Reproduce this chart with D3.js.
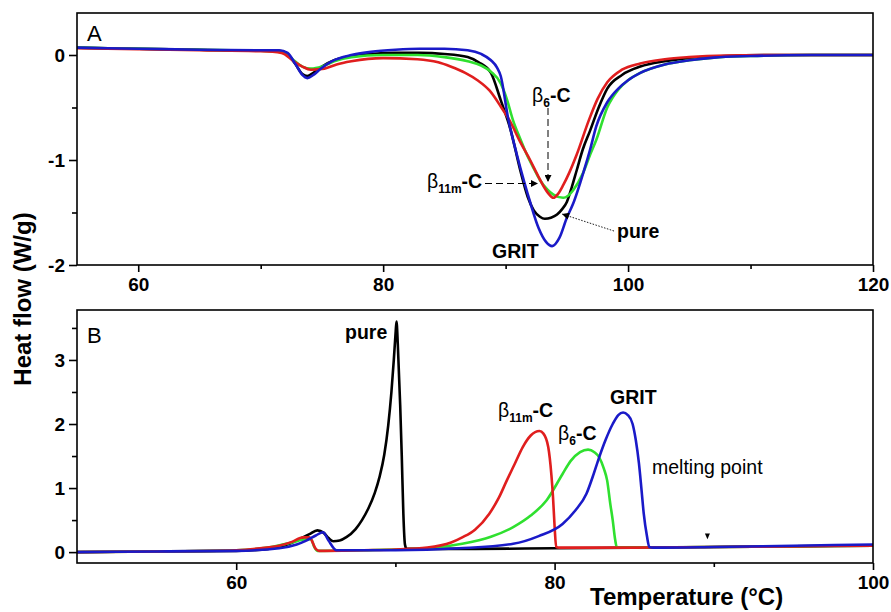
<!DOCTYPE html>
<html>
<head>
<meta charset="utf-8">
<script src="https://cdn.jsdelivr.net/npm/d3@7"></script>
<style>
	body { margin: 0; background: #fff; }
	text { font-family: "Liberation Sans", Arial, sans-serif; }
</style>
</head>
<body>
<svg id="canvas" width="891" height="612"></svg>
<script>
// Panel A: heating (melting) curves, [temperature, heat flow]
let pureA = [[55,0.07],[60,0.06],[65,0.05],[70,0.04],[71.5,0.04],[72.2,0.01],[72.8,-0.08],[73.4,-0.18],[73.8,-0.2],[74.3,-0.17],[75,-0.11],[76,-0.05],[77.4,-0.01],[79,0.01],[81,0.02],[83,0.02],[85,0.01],[86.9,-0.02],[87.8,-0.07],[88.8,-0.17],[89.6,-0.43],[90.4,-0.71],[91.2,-1.1],[91.8,-1.35],[92.3,-1.48],[92.8,-1.54],[93.2,-1.56],[93.7,-1.55],[94.2,-1.52],[94.6,-1.47],[95,-1.4],[95.4,-1.26],[95.8,-1.1],[96.3,-0.9],[96.9,-0.72],[97.6,-0.5],[98.3,-0.32],[99.5,-0.19],[101,-0.11],[103,-0.06],[105,-0.03],[108,-0.01],[112,0],[120,0]];
let b6A = [[55,0.07],[60,0.06],[65,0.05],[70,0.04],[71.7,0.03],[72.7,-0.05],[73.4,-0.11],[74.1,-0.13],[75,-0.11],[76,-0.06],[77.4,-0.02],[80,0],[82.8,0],[85,-0.02],[86.9,-0.06],[88,-0.1],[88.8,-0.16],[89.6,-0.27],[90.1,-0.42],[90.6,-0.62],[91.2,-0.8],[91.7,-0.94],[92.3,-1.08],[92.8,-1.19],[93.4,-1.28],[93.9,-1.33],[94.7,-1.36],[95.1,-1.34],[95.5,-1.29],[96.3,-1.13],[96.9,-0.95],[97.4,-0.81],[98.3,-0.5],[99.2,-0.33],[100,-0.24],[101,-0.17],[103,-0.09],[105,-0.05],[107,-0.025],[110,-0.01],[115,0],[120,0]];
let b11mA = [[55,0.065],[60,0.055],[65,0.045],[70,0.035],[71.7,0.02],[72.7,-0.06],[73.4,-0.11],[74.1,-0.14],[75.2,-0.13],[76.2,-0.09],[77.4,-0.06],[80,-0.03],[82.8,-0.04],[84.5,-0.07],[85.5,-0.11],[86.7,-0.17],[87.7,-0.24],[88.7,-0.34],[89.6,-0.49],[90.4,-0.64],[91.2,-0.83],[92,-1],[92.6,-1.14],[93.1,-1.25],[93.5,-1.32],[93.9,-1.36],[94.3,-1.32],[94.7,-1.24],[95.2,-1.12],[95.8,-0.95],[96.8,-0.62],[97.5,-0.42],[98.3,-0.26],[99.5,-0.14],[101,-0.08],[103,-0.04],[105,-0.02],[108,-0.005],[112,0],[120,0]];
let gritA = [[55,0.07],[60,0.06],[65,0.05],[70,0.045],[71.5,0.045],[72.2,0.02],[72.8,-0.08],[73.4,-0.19],[73.8,-0.22],[74.3,-0.19],[74.9,-0.13],[75.8,-0.06],[77.4,0],[79,0.03],[81,0.05],[83,0.06],[85,0.06],[86.9,0.045],[88,0.01],[88.8,-0.05],[89.3,-0.12],[89.6,-0.2],[90.2,-0.6],[90.9,-0.94],[91.5,-1.2],[92,-1.4],[92.7,-1.65],[93.3,-1.78],[93.8,-1.82],[94.4,-1.74],[95,-1.55],[95.5,-1.42],[96.4,-1.1],[96.9,-0.9],[97.4,-0.68],[98.3,-0.45],[99.2,-0.32],[100,-0.24],[101,-0.17],[103,-0.09],[105,-0.05],[107,-0.025],[110,-0.01],[115,0],[120,0]];

// Panel B: cooling (crystallisation) curves
let pureB = [[50,0],[55,0.01],[60,0.02],[62,0.05],[63,0.1],[63.8,0.18],[64.6,0.28],[65.1,0.34],[65.5,0.3],[65.8,0.22],[66.1,0.17],[66.5,0.18],[66.9,0.23],[67.5,0.36],[67.9,0.5],[68.3,0.68],[68.7,0.92],[69,1.17],[69.3,1.52],[69.55,1.98],[69.75,2.5],[69.9,3.0],[70.02,3.45],[70.07,3.6],[70.15,3.25],[70.3,2.3],[70.4,1.5],[70.5,0.6],[70.6,0.12],[70.7,0.05],[75,0.05],[80,0.06],[85,0.07],[90,0.08],[95,0.09],[100,0.1]];
let b11mB = [[50,0],[55,0.01],[60,0.03],[61.5,0.06],[62.7,0.1],[63.5,0.16],[64.2,0.23],[64.6,0.23],[65,0.05],[65.2,0.02],[68,0.03],[70,0.04],[72,0.07],[73.5,0.15],[74.2,0.23],[75,0.35],[75.9,0.6],[76.5,0.85],[77,1.12],[77.5,1.38],[78,1.64],[78.5,1.82],[79.05,1.89],[79.3,1.85],[79.6,1.64],[79.8,1.2],[79.9,0.86],[80,0.4],[80.1,0.08],[80.3,0.07],[85,0.07],[90,0.08],[95,0.09],[100,0.1]];
let b6B = [[50,0],[55,0.01],[60,0.03],[62,0.07],[63.5,0.15],[64.4,0.2],[64.7,0.2],[64.9,0.08],[65.1,0.02],[68,0.03],[72,0.06],[74.2,0.13],[76,0.24],[77.4,0.39],[78.5,0.57],[79.5,0.81],[80.5,1.22],[81,1.42],[81.6,1.56],[82.1,1.6],[82.5,1.56],[82.8,1.48],[83.1,1.3],[83.3,1.12],[83.5,0.75],[83.65,0.5],[83.8,0.2],[83.9,0.08],[84.1,0.07],[90,0.08],[95,0.09],[100,0.1]];
let gritB = [[50,0],[55,0.01],[60,0.02],[62.7,0.06],[63.8,0.12],[64.4,0.18],[65,0.26],[65.45,0.31],[65.8,0.18],[66.3,0.03],[70,0.03],[74,0.06],[77.4,0.13],[79,0.25],[80.5,0.44],[81.3,0.65],[82,0.91],[82.4,1.18],[82.8,1.48],[83.2,1.75],[83.65,2],[84,2.14],[84.3,2.18],[84.6,2.14],[84.9,2],[85.1,1.75],[85.3,1.38],[85.45,1],[85.6,0.6],[85.8,0.25],[85.95,0.08],[86.2,0.07],[90,0.08],[95,0.1],[100,0.12]];

let xTicksA = [60, 80, 100, 120];
let xMinorA = [70, 90, 110];
let yTicksA = [0, -1, -2];
let yMinorA = [-0.5, -1.5];
let xTicksB = [60, 80, 100];
let xMinorB = [70, 90];
let yTicksB = [0, 1, 2, 3];
let yMinorB = [0.5, 1.5, 2.5, 3.5];

let colors = { pure: '#000000', b6: '#2fe02f', b11m: '#e01e1e', grit: '#1a1ac8' };

let canvas = d3.select('#canvas');

let defs = canvas.append('defs');
defs.append('marker')
	.attr('id', 'head')
	.attr('viewBox', '0 0 10 10')
	.attr('refX', 10).attr('refY', 5)
	.attr('markerWidth', 9).attr('markerHeight', 7)
	.attr('markerUnits', 'userSpaceOnUse')
	.attr('orient', 'auto')
	.append('path').attr('d', 'M0,0 L10,5 L0,10 Z').attr('fill', '#000');

let drawPanel = (box, x, y, xTicks, xMinor, yTicks, yMinor, series, id) => {
	let g = canvas.append('g');

	defs.append('clipPath').attr('id', id)
		.append('rect')
		.attr('x', box.left).attr('y', box.top)
		.attr('width', box.right - box.left).attr('height', box.bottom - box.top);

	let line = d3.line()
		.x((d) => x(d[0]))
		.y((d) => y(d[1]))
		.curve(d3.curveMonotoneX);

	g.append('g').attr('clip-path', `url(#${id})`)
		.selectAll('path')
		.data(series)
		.enter()
		.append('path')
		.attr('d', (s) => line(s.values))
		.attr('fill', 'none')
		.attr('stroke', (s) => s.color)
		.attr('stroke-width', 2.6)
		.attr('stroke-linejoin', 'round');

	g.append('g')
		.attr('transform', `translate(0,${box.bottom})`)
		.call(d3.axisBottom(x).tickValues(xTicks).tickSize(7).tickPadding(6).tickFormat((d) => d));
	g.append('g')
		.attr('transform', `translate(0,${box.bottom})`)
		.call(d3.axisBottom(x).tickValues(xMinor).tickSize(4).tickFormat(''));
	g.append('g')
		.attr('transform', `translate(${box.left},0)`)
		.call(d3.axisLeft(y).tickValues(yTicks).tickSize(8).tickPadding(4).tickFormat((d) => d));
	g.append('g')
		.attr('transform', `translate(${box.left},0)`)
		.call(d3.axisLeft(y).tickValues(yMinor).tickSize(5).tickFormat(''));

	g.selectAll('.domain').remove();
	g.selectAll('.tick line').attr('stroke', '#000').attr('stroke-width', 1.6);
	g.selectAll('.tick text')
		.attr('fill', '#000')
		.style('font-size', '19px')
		.style('font-weight', 'bold')
		.style('font-family', '"Liberation Sans", Arial, sans-serif');

	g.append('rect')
		.attr('x', box.left).attr('y', box.top)
		.attr('width', box.right - box.left).attr('height', box.bottom - box.top)
		.attr('fill', 'none').attr('stroke', '#000').attr('stroke-width', 1.6);
};

let boxA = { left: 77, right: 873, top: 13, bottom: 265 };
let boxB = { left: 77, right: 873, top: 310, bottom: 563 };

let xA = d3.scaleLinear().domain([55, 120]).range([boxA.left, boxA.right]);
let yA = d3.scaleLinear().domain([-2, 0.4]).range([boxA.bottom, boxA.top]);
let xB = d3.scaleLinear().domain([50, 100]).range([boxB.left, boxB.right]);
let yB = d3.scaleLinear().domain([-0.17, 3.78]).range([boxB.bottom, boxB.top]);

drawPanel(boxA, xA, yA, xTicksA, xMinorA, yTicksA, yMinorA, [
	{ values: pureA, color: colors.pure },
	{ values: b6A, color: colors.b6 },
	{ values: b11mA, color: colors.b11m },
	{ values: gritA, color: colors.grit }
], 'clipA');

drawPanel(boxB, xB, yB, xTicksB, xMinorB, yTicksB, yMinorB, [
	{ values: pureB, color: colors.pure },
	{ values: b6B, color: colors.b6 },
	{ values: b11mB, color: colors.b11m },
	{ values: gritB, color: colors.grit }
], 'clipB');

// panel letters
canvas.append('text').attr('x', 87).attr('y', 41).style('font-size', '22px').text('A');
canvas.append('text').attr('x', 87).attr('y', 343).style('font-size', '22px').text('B');

// axis titles
canvas.append('text')
	.attr('transform', 'translate(31,299) rotate(-90)')
	.attr('text-anchor', 'middle')
	.style('font-size', '24px').style('font-weight', 'bold')
	.text('Heat flow (W/g)');
canvas.append('text')
	.attr('x', 590).attr('y', 605)
	.style('font-size', '24px').style('font-weight', 'bold')
	.text('Temperature (\u00B0C)');

// beta labels: regular beta, small subscript, bold "-C"
let betaLabel = (x, y, sub) => {
	let t = canvas.append('text').attr('x', x).attr('y', y).style('font-size', '19.5px');
	t.append('tspan').text('\u03B2');
	t.append('tspan').attr('dy', 5).style('font-size', '12px').style('font-weight', 'bold').text(sub);
	t.append('tspan').attr('dy', -5).style('font-weight', 'bold').text('-C');
};
let boldLabel = (x, y, s) => {
	canvas.append('text').attr('x', x).attr('y', y)
		.style('font-size', '19.5px').style('font-weight', 'bold').text(s);
};

// panel A annotations
betaLabel(532, 102, '6');
betaLabel(427, 188, '11m');
boldLabel(492, 258, 'GRIT');
boldLabel(617, 238, 'pure');
canvas.append('line')
	.attr('x1', 548).attr('y1', 108).attr('x2', 548).attr('y2', 182)
	.attr('stroke', '#000').attr('stroke-width', 1).attr('stroke-dasharray', '7,4')
	.attr('marker-end', 'url(#head)');
canvas.append('line')
	.attr('x1', 485).attr('y1', 183.5).attr('x2', 538).attr('y2', 183.5)
	.attr('stroke', '#000').attr('stroke-width', 1).attr('stroke-dasharray', '7,4')
	.attr('marker-end', 'url(#head)');
canvas.append('line')
	.attr('x1', 614).attr('y1', 231).attr('x2', 562).attr('y2', 214)
	.attr('stroke', '#000').attr('stroke-width', 0.9).attr('stroke-dasharray', '1.5,1.5')
	.attr('marker-end', 'url(#head)');

// panel B annotations
boldLabel(345, 339, 'pure');
betaLabel(498, 417, '11m');
betaLabel(558, 440, '6');
boldLabel(610, 404, 'GRIT');
canvas.append('text').attr('x', 652).attr('y', 474).style('font-size', '19.5px').text('melting point');
canvas.append('path')
	.attr('d', `M${xB(89.6) - 2.5},${yB(0.29)} L${xB(89.6) + 2.5},${yB(0.29)} L${xB(89.6)},${yB(0.2)} Z`)
	.attr('fill', '#000');
</script>
</body>
</html>
